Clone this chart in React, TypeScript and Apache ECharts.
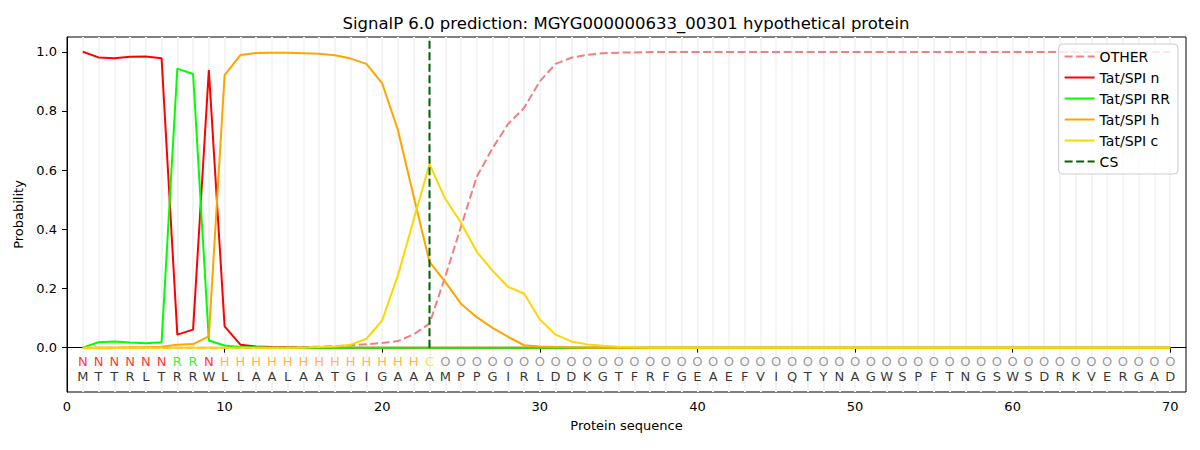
import React, { useEffect, useRef } from 'react';
import * as echarts from 'echarts';

// residue sequence and predicted region label for each position
const sequence = 'MTTRLTRRWLLAALAATGIGAAAMPPGIRLDDKGTFRFGEAEFVIQTYNAGWSPFTNGSWSDRKVERGAD'.split('');
const regions = 'NNNNNNRRNHHHHHHHHHHHHHCOOOOOOOOOOOOOOOOOOOOOOOOOOOOOOOOOOOOOOOOOOOOOOO'.split('');
const positions = sequence.map((_, i) => i + 1);

const otherProb = [
    0, 0, 0, 0, 0, 0, 0, 0, 0, 0,
    0, 0, 0, 0.001, 0.002, 0.003, 0.005, 0.008, 0.011, 0.016,
    0.022, 0.045, 0.081, 0.24, 0.409, 0.578, 0.674, 0.757, 0.81, 0.9,
    0.959, 0.98, 0.99, 0.995, 0.997, 0.998, 0.999, 0.999, 0.999, 0.999,
    0.999, 0.999, 0.999, 0.999, 0.999, 0.999, 0.999, 0.999, 0.999, 0.999,
    0.999, 0.999, 0.999, 0.999, 0.999, 0.999, 0.999, 0.999, 0.999, 0.999,
    0.999, 0.999, 0.999, 0.999, 0.999, 0.999, 0.999, 0.999, 0.999, 0.999,
];
const nProb = [
    1.0, 0.981, 0.978, 0.983, 0.984, 0.978, 0.044, 0.061, 0.938, 0.072,
    0.01, 0.004, 0.002, 0.001, 0, 0, 0, 0, 0, 0,
    0, 0, 0, 0, 0, 0, 0, 0, 0, 0,
    0, 0, 0, 0, 0, 0, 0, 0, 0, 0,
    0, 0, 0, 0, 0, 0, 0, 0, 0, 0,
    0, 0, 0, 0, 0, 0, 0, 0, 0, 0,
    0, 0, 0, 0, 0, 0, 0, 0, 0, 0,
];
const rrProb = [
    0, 0.018, 0.021, 0.017, 0.015, 0.018, 0.943, 0.925, 0.024, 0.007,
    0.002, 0.001, 0, 0, 0, 0, 0, 0, 0, 0,
    0, 0, 0, 0, 0, 0, 0, 0, 0, 0,
    0, 0, 0, 0, 0, 0, 0, 0, 0, 0,
    0, 0, 0, 0, 0, 0, 0, 0, 0, 0,
    0, 0, 0, 0, 0, 0, 0, 0, 0, 0,
    0, 0, 0, 0, 0, 0, 0, 0, 0, 0,
];
const hProb = [
    0, 0, 0, 0.001, 0.001, 0.003, 0.01, 0.012, 0.038, 0.921,
    0.989, 0.996, 0.997, 0.997, 0.995, 0.993, 0.988, 0.977, 0.959, 0.893,
    0.735, 0.51, 0.29, 0.222, 0.148, 0.103, 0.067, 0.036, 0.008, 0.004,
    0.002, 0.001, 0, 0, 0, 0, 0, 0, 0, 0,
    0, 0, 0, 0, 0, 0, 0, 0, 0, 0,
    0, 0, 0, 0, 0, 0, 0, 0, 0, 0,
    0, 0, 0, 0, 0, 0, 0, 0, 0, 0,
];
const cProb = [
    0, 0, 0, 0, 0, 0, 0, 0, 0, 0,
    0, 0, 0, 0, 0, 0.002, 0.004, 0.01, 0.03, 0.092,
    0.245, 0.433, 0.62, 0.503, 0.422, 0.324, 0.26, 0.205, 0.183, 0.095,
    0.044, 0.021, 0.011, 0.006, 0.003, 0.001, 0, 0, 0, 0,
    0, 0, 0, 0, 0, 0, 0, 0, 0, 0,
    0, 0, 0, 0, 0, 0, 0, 0, 0, 0,
    0, 0, 0, 0, 0, 0, 0, 0, 0, 0,
];
const csPosition = 23;
const csSpan = [0, 1.04];

const xTicks = [0, 10, 20, 30, 40, 50, 60, 70];
const yTicks = [0, 0.2, 0.4, 0.6, 0.8, 1.0];

const regionColors: Record<string, string> = {
    N: '#ff0000',
    R: '#00ee00',
    H: '#ffa500',
    C: '#ffd700',
    O: '#808080',
};

const FONT = 'DejaVu Sans';

const App: React.FC = () => {
    const chartRef = useRef<HTMLDivElement>(null);

    useEffect(() => {
        if (!chartRef.current) return;
        document.body.style.margin = '0';

        const chart = echarts.init(chartRef.current, undefined, { renderer: 'svg' });

        const toPoints = (values: number[]) => values.map((v, i) => [positions[i], v]);

        const lineSeries = (name: string, values: number[], color: string, dashed = false) => ({
            name,
            type: 'line',
            data: toPoints(values),
            symbol: 'none',
            silent: true,
            lineStyle: { color, width: 2, type: dashed ? [8, 3.5] : 'solid' },
            itemStyle: { color },
        });

        const option = {
            animation: false,
            textStyle: { fontFamily: FONT },
            title: {
                text: 'SignalP 6.0 prediction: MGYG000000633_00301 hypothetical protein',
                left: 626,
                top: 15,
                textAlign: 'center',
                padding: 0,
                textStyle: { fontSize: 16.5, fontWeight: 'normal', color: '#000', fontFamily: FONT },
            },
            legend: {
                orient: 'vertical',
                right: 22,
                top: 44,
                padding: [5.5, 8, 5.5, 5],
                itemWidth: 30,
                itemHeight: 14,
                itemGap: 7,
                itemTextGap: 10,
                itemStyle: { opacity: 0 },
                borderColor: '#cccccc',
                borderWidth: 1,
                borderRadius: 4,
                backgroundColor: 'rgba(255,255,255,0.8)',
                data: ['OTHER', 'Tat/SPI n', 'Tat/SPI RR', 'Tat/SPI h', 'Tat/SPI c', 'CS'],
                textStyle: { fontSize: 14, color: '#000', fontFamily: FONT },
            },
            grid: {
                left: 67,
                right: 14,
                top: 37,
                bottom: 58,
                show: true,
                borderColor: '#000',
                borderWidth: 1,
                backgroundColor: 'transparent',
            },
            xAxis: {
                type: 'value',
                min: 0,
                max: 71,
                name: 'Protein sequence',
                nameLocation: 'middle',
                nameGap: 27,
                nameTextStyle: { fontSize: 13, color: '#000', fontFamily: FONT },
                axisLine: { show: true, lineStyle: { color: '#000' } },
                axisTick: { show: true, length: 5, customValues: xTicks, lineStyle: { color: '#000' } },
                axisLabel: { customValues: xTicks, margin: 8, fontSize: 13, color: '#000', fontFamily: FONT },
                splitLine: { show: false },
            },
            yAxis: {
                type: 'value',
                min: -0.15,
                max: 1.05,
                name: 'Probability',
                nameLocation: 'middle',
                nameGap: 37,
                nameTextStyle: { fontSize: 13, color: '#000', fontFamily: FONT },
                axisLine: { show: true, lineStyle: { color: '#000' } },
                axisTick: { show: true, length: 5, customValues: yTicks, lineStyle: { color: '#000' } },
                axisLabel: {
                    customValues: yTicks,
                    margin: 10,
                    fontSize: 13,
                    color: '#000',
                    fontFamily: FONT,
                    formatter: (v: number) => v.toFixed(1),
                },
                splitLine: { show: false },
            },
            series: [
                {
                    name: 'regionLabels',
                    type: 'scatter',
                    silent: true,
                    symbolSize: 1,
                    itemStyle: { color: 'rgba(0,0,0,0)' },
                    data: positions.map((x, i) => ({
                        value: [x, -0.046],
                        name: regions[i],
                        label: { color: regionColors[regions[i]] },
                    })),
                    label: {
                        show: true,
                        position: 'inside',
                        formatter: (p: any) => p.name,
                        fontSize: 13,
                        fontFamily: FONT,
                    },
                    markLine: {
                        silent: true,
                        symbol: ['none', 'none'],
                        z: 0,
                        label: { show: false },
                        lineStyle: { color: '#f4f4f4', width: 2, type: 'solid', opacity: 1 },
                        data: positions.map((x) => ({ xAxis: x })),
                    },
                },
                {
                    name: 'residues',
                    type: 'scatter',
                    silent: true,
                    symbolSize: 1,
                    itemStyle: { color: 'rgba(0,0,0,0)' },
                    data: positions.map((x, i) => ({ value: [x, -0.097], name: sequence[i] })),
                    label: {
                        show: true,
                        position: 'inside',
                        formatter: (p: any) => p.name,
                        fontSize: 13,
                        color: '#000',
                        fontFamily: FONT,
                    },
                },
                lineSeries('OTHER', otherProb, '#f08080', true),
                lineSeries('Tat/SPI n', nProb, '#ff0000'),
                lineSeries('Tat/SPI RR', rrProb, '#00ff00'),
                lineSeries('Tat/SPI h', hProb, '#ffa500'),
                lineSeries('Tat/SPI c', cProb, '#ffd700'),
                {
                    name: 'CS',
                    type: 'line',
                    symbol: 'none',
                    silent: true,
                    data: csSpan.map((y) => [csPosition, y]),
                    lineStyle: { color: '#006400', width: 2, type: [8, 3.5] },
                    itemStyle: { color: '#006400' },
                },
            ],
        };

        chart.setOption(option as any);

        return () => {
            chart.dispose();
        };
    }, []);

    return <div ref={chartRef} style={{ width: 1200, height: 450 }} />;
};

export default App;
